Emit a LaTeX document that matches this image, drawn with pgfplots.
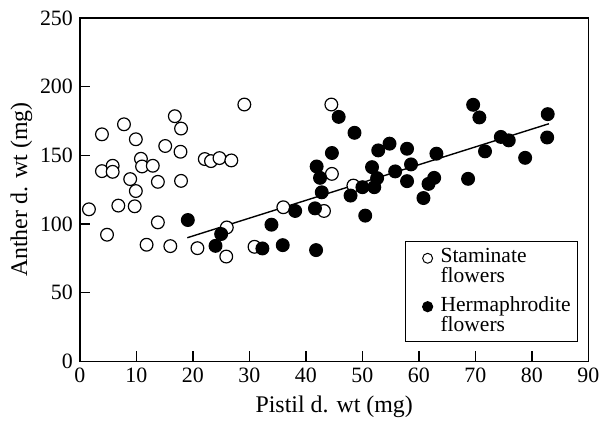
\documentclass[border=0pt]{standalone}
\usepackage{fontspec}
\setmainfont{Liberation Serif}
\usepackage{pgfplots}
\pgfplotsset{compat=1.18}

% staminate flowers (open circles)
\newcommand{\staminate}{
(1.6,110.7) (3.9,165.3) (3.9,138.5) (4.8,92.2) (5.8,142.4) (5.8,138.0)
(6.8,113.4) (7.8,172.6) (8.9,132.7) (9.7,112.9) (9.9,161.7) (9.9,124.0)
(10.8,147.5) (11.0,141.9) (11.8,84.9) (12.9,142.4) (13.8,130.7) (13.8,101.2)
(15.1,156.8) (16.0,83.9) (16.8,178.5) (17.8,152.6) (17.9,169.5) (17.9,131.4)
(20.8,82.4) (22.1,147.3) (23.2,145.8) (24.7,148.0) (26.0,97.5) (25.9,76.3)
(26.8,146.3) (29.1,187.0) (30.9,83.4) (36.0,112.2) (43.2,109.5) (44.5,187.0)
(44.6,136.5) (48.4,128.0)}

% hermaphrodite flowers (filled circles)
\newcommand{\hermaphrodite}{
(19.1,102.9) (24.0,84.1) (25.0,92.7) (32.3,82.2) (33.9,99.5) (35.9,84.6)
(38.1,109.5) (41.6,111.4) (41.8,81.0) (41.9,141.9) (42.5,133.6) (42.8,123.1)
(44.6,151.7) (45.8,178.0) (47.9,120.7) (48.6,166.4) (50.0,126.8) (50.5,106.1)
(51.7,141.4) (52.1,126.8) (52.6,133.4) (52.8,153.6) (54.8,158.5) (55.8,138.3)
(57.9,154.8) (57.9,131.2) (58.6,143.4) (60.8,118.9) (61.7,129.2) (62.7,133.6)
(63.1,151.2) (68.7,132.9) (69.6,186.8) (70.7,177.6) (71.7,152.9) (74.5,163.4)
(75.9,160.9) (78.8,148.2) (82.7,163.0) (82.8,180.0)}

\newcommand{\legfont}{\fontsize{10.8}{10}\selectfont\lineskiplimit=-5pt\relax}

\begin{document}
\begin{tikzpicture}
\begin{axis}[
    scale only axis,
    width=255.5pt, height=172.5pt,
    xmin=0, xmax=90, ymin=0, ymax=250,
    xtick={0,10,...,90},
    ytick={0,50,...,250},
    tick pos=left,
    tick align=inside,
    major tick length=5pt,
    axis line style={line width=0.6pt},
    tick style={line width=0.6pt, black},
    /pgf/number format/assume math mode=true,
    ticklabel style={font=\fontsize{11}{13}\selectfont},
    label style={font=\fontsize{12}{14}\selectfont},
    xlabel={Pistil d. wt (mg)},
    ylabel={Anther d. wt (mg)},
    ylabel shift=-3pt,
    xlabel shift=-0.5pt,
    legend style={
        at={(0.98,0.056)}, anchor=south east,
        draw=black, line width=0.6pt,
        font=\legfont,
        nodes={align=left, inner sep=0.5pt},
        cells={anchor=west},
        row sep=4.5pt,
        inner xsep=3pt, inner ysep=3pt,
    },
    legend cell align=left,
]
\addplot[only marks, mark=*, mark size=3.2pt,
    mark options={draw=black, fill=white, line width=0.6pt},
    legend image code/.code={
        \path[draw=none, fill=none] (0,0) rectangle (14pt,0);
        \draw[black, fill=white, line width=0.5pt] (8pt,4.5pt) circle (2.5pt);}]
    coordinates {\staminate};
\addplot[only marks, mark=*, mark size=3.2pt,
    mark options={draw=black, fill=black, line width=0.6pt},
    legend image code/.code={
        \path[draw=none, fill=none] (0,0) rectangle (14pt,0);
        \draw[black, fill=black] (8pt,4.5pt) circle (2.5pt);}]
    coordinates {\hermaphrodite};
\addplot[black, line width=0.7pt, forget plot] coordinates {(19,90) (83,173)};
\legend{{Staminate\\flowers}, {Hermaphrodite\\flowers}}
\end{axis}
\path (current bounding box.north west) +(-2pt,2pt);
\end{tikzpicture}
\end{document}
